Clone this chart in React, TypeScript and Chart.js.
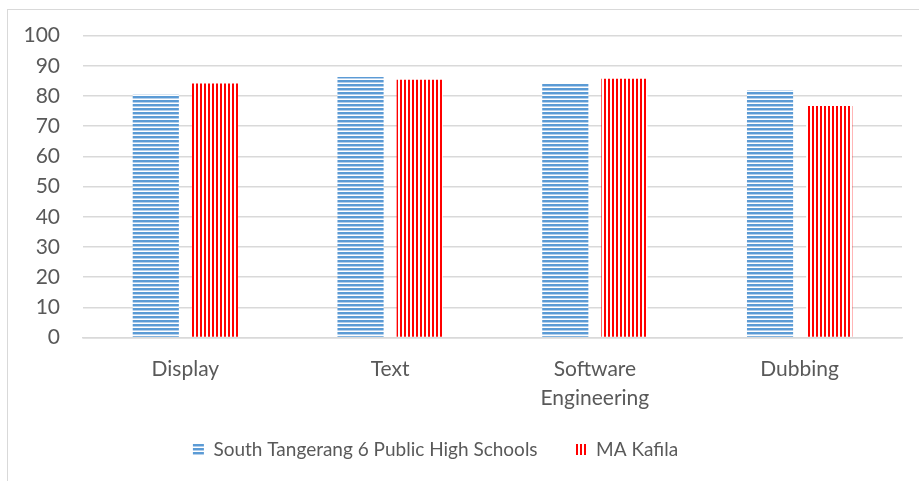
import React, { useEffect, useRef } from "react";
import { Chart, registerables } from "chart.js";

Chart.register(...registerables);

const categories: (string | string[])[] = ["Display", "Text", ["Software", "Engineering"], "Dubbing"];
const southTangerang = [80.5, 86.3, 84.1, 81.9];
const maKafila = [84.1, 85.4, 85.7, 76.7];
const seriesNames = ["South Tangerang 6 Public High Schools", "MA Kafila"];

const FONT = "Lato, 'Open Sans', sans-serif";
const TEXT_COLOR = "#595959";
const GRID_COLOR = "#d9d9d9";

function makeHorizontalPattern(): CanvasPattern | string {
  const c = document.createElement("canvas");
  c.width = 4;
  c.height = 4;
  const ctx = c.getContext("2d");
  if (!ctx) return "#5b9bd5";
  ctx.fillStyle = "#ffffff";
  ctx.fillRect(0, 0, 4, 4);
  ctx.fillStyle = "#5b9bd5";
  ctx.fillRect(0, 0, 4, 2);
  ctx.fillStyle = "#b4cfeb";
  ctx.fillRect(0, 2, 4, 1);
  const p = ctx.createPattern(c, "repeat");
  return p || "#5b9bd5";
}

function makeVerticalPattern(): CanvasPattern | string {
  const c = document.createElement("canvas");
  c.width = 4;
  c.height = 4;
  const ctx = c.getContext("2d");
  if (!ctx) return "#ff0000";
  ctx.fillStyle = "#ffffff";
  ctx.fillRect(0, 0, 4, 4);
  ctx.fillStyle = "#ff0000";
  ctx.fillRect(0, 0, 2, 4);
  const p = ctx.createPattern(c, "repeat");
  return p || "#ff0000";
}

// lets the two-line category labels extend past the x-axis box (which overlaps the legend padding)
const labelRoomPlugin = {
  id: "labelRoom",
  afterLayout(chart: any) {
    const x = chart.scales.x;
    if (x) x.bottom += 30;
  },
};

export default function App() {
  const canvasRef = useRef<HTMLCanvasElement | null>(null);

  useEffect(() => {
    const canvas = canvasRef.current;
    if (!canvas) return;
    const bluePattern = makeHorizontalPattern();
    const redPattern = makeVerticalPattern();
    const chart = new Chart(canvas, {
      type: "bar",
      data: {
        labels: categories,
        datasets: [
          {
            label: seriesNames[0],
            data: southTangerang,
            backgroundColor: bluePattern as any,
            borderWidth: 0,
            categoryPercentage: 0.578,
            barPercentage: 0.78,
          },
          {
            label: seriesNames[1],
            data: maKafila,
            backgroundColor: redPattern as any,
            borderWidth: 0,
            categoryPercentage: 0.578,
            barPercentage: 0.78,
          },
        ],
      },
      plugins: [labelRoomPlugin],
      options: {
        responsive: false,
        animation: false,
        layout: { padding: { top: 32, left: -31, right: 17, bottom: 12 } },
        plugins: {
          tooltip: { enabled: false },
          legend: {
            position: "bottom",
            labels: {
              font: { family: FONT, size: 19 },
              color: TEXT_COLOR,
              boxWidth: 11,
              boxHeight: 11,
              padding: 38,
            },
          },
        },
        scales: {
          x: {
            grid: { display: false, drawTicks: false },
            border: { display: true, color: GRID_COLOR, width: 1.5 },
            ticks: {
              font: { family: FONT, size: 21, lineHeight: 1.4 },
              color: TEXT_COLOR,
              padding: 17,
              maxRotation: 0,
            },
            afterFit: (scale: any) => {
              scale.height = 64.5;
            },
          },
          y: {
            min: 0,
            max: 100,
            ticks: {
              stepSize: 10,
              font: { family: FONT, size: 21 },
              color: TEXT_COLOR,
              padding: 23,
            },
            grid: { color: GRID_COLOR, lineWidth: 1.5, drawTicks: false },
            border: { display: false },
            afterFit: (scale: any) => {
              scale.width = 114;
            },
          },
        },
      },
    });
    return () => chart.destroy();
  }, []);

  return (
    <div style={{ position: "fixed", left: 0, top: 0, width: 919, height: 481, overflow: "hidden", background: "#ffffff" }}>
      <div
        style={{
          position: "absolute",
          left: 7,
          top: 9,
          width: 1000,
          height: 1000,
          border: "1px solid #d9d9d9",
          boxSizing: "border-box",
        }}
      />
      <canvas ref={canvasRef} width={919} height={481} style={{ position: "absolute", left: 0, top: 0 }} />
    </div>
  );
}
